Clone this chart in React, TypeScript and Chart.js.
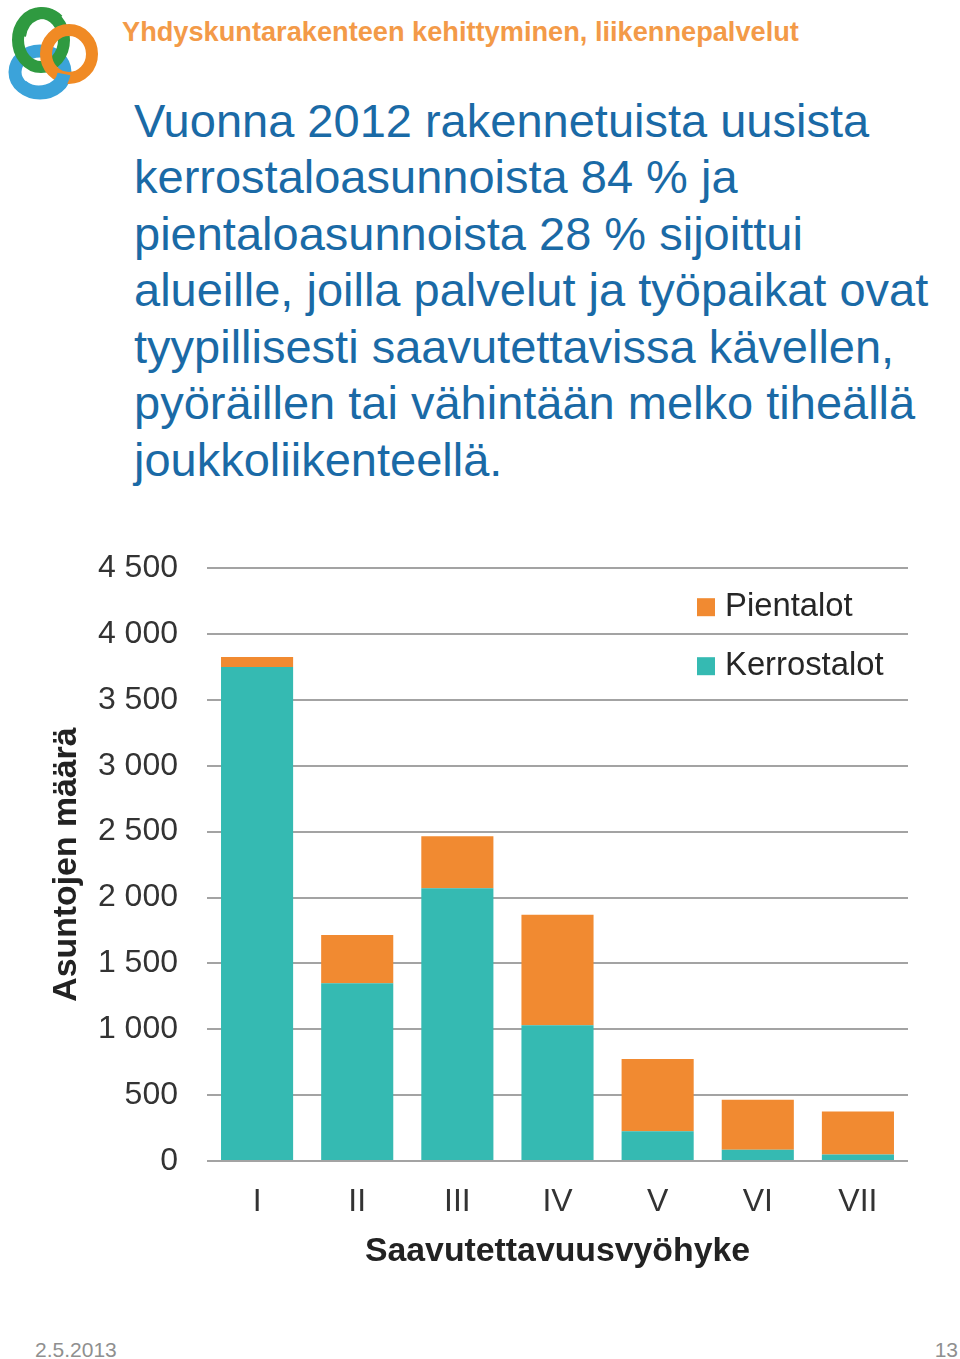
import React, { useEffect, useRef } from "react";
import { Chart, registerables } from "chart.js";
Chart.register(...registerables);

const categories = ["I", "II", "III", "IV", "V", "VI", "VII"];
const kerrostalot = [3750, 1350, 2070, 1030, 225, 85, 50];
const pientalot = [75, 365, 395, 840, 550, 380, 325];
const seriesNames = ["Kerrostalot", "Pientalot"];
const seriesColors = ["#35bab2", "#f18a31"];
const yMax = 4500;
const yStep = 500;
const yTitle = "Asuntojen määrä";
const xTitle = "Saavutettavuusvyöhyke";
const headerText = "Yhdyskuntarakenteen kehittyminen, liikennepalvelut";
const titleLines = [
  "Vuonna 2012 rakennetuista uusista",
  "kerrostaloasunnoista 84 % ja",
  "pientaloasunnoista 28 % sijoittui",
  "alueille, joilla palvelut ja työpaikat ovat",
  "tyypillisesti saavutettavissa kävellen,",
  "pyöräillen tai vähintään melko tiheällä",
  "joukkoliikenteellä.",
];
const footerDate = "2.5.2013";
const footerPage = "13";

const FONT = "'Liberation Sans', Arial, Helvetica, sans-serif";

const legendPlugin = {
  id: "customLegend",
  afterDraw(chart: any) {
    const { ctx, chartArea } = chart;
    const ds = chart.data.datasets.slice().reverse();
    ctx.save();
    ctx.font = `32.8px ${FONT}`;
    ctx.textBaseline = "middle";
    ctx.textAlign = "left";
    ds.forEach((d: any, i: number) => {
      const x = chartArea.right - 211;
      const y = chartArea.top + 30 + i * 59;
      ctx.fillStyle = d.backgroundColor;
      ctx.fillRect(x, y, 18, 18);
      ctx.fillStyle = "#262626";
      ctx.fillText(d.label, x + 28, y + 9);
    });
    ctx.restore();
  },
};

function fmt(v: number) {
  const s = String(Math.round(v));
  return s.replace(/\B(?=(\d{3})+(?!\d))/g, " ");
}

export default function App() {
  const ref = useRef<HTMLCanvasElement>(null);
  useEffect(() => {
    if (!ref.current) return;
    const chart = new Chart(ref.current, {
      type: "bar",
      data: {
        labels: categories,
        datasets: [
          { label: seriesNames[0], data: kerrostalot, backgroundColor: seriesColors[0] },
          { label: seriesNames[1], data: pientalot, backgroundColor: seriesColors[1] },
        ],
      },
      options: {
        animation: false,
        responsive: false,
        maintainAspectRatio: false,
        layout: { padding: { left: 40, right: 52, top: 48, bottom: 10 } },
        datasets: { bar: { categoryPercentage: 1, barPercentage: 0.72 } },
        plugins: { legend: { display: false }, tooltip: { enabled: false } },
        scales: {
          x: {
            stacked: true,
            grid: { display: false, drawTicks: false },
            border: { display: false },
            ticks: { color: "#333333", font: { family: FONT, size: 32 }, padding: 22 },
            title: {
              display: true,
              text: xTitle,
              color: "#222222",
              font: { family: FONT, size: 33.8, weight: "bold" },
              padding: { top: 0, bottom: 18 },
            },
            afterFit: (s: any) => {
              s.height = 129;
            },
          },
          y: {
            stacked: true,
            min: 0,
            max: yMax,
            grid: { color: "#a3a3a3", lineWidth: 2, drawTicks: false },
            border: { display: false },
            ticks: {
              stepSize: yStep,
              color: "#333333",
              font: { family: FONT, size: 32 },
              padding: 29,
              callback: (v: any) => fmt(Number(v)),
            },
            title: {
              display: true,
              text: yTitle,
              color: "#222222",
              font: { family: FONT, size: 33.8, weight: "bold" },
              padding: { top: 6, bottom: 0 },
            },
            afterFit: (s: any) => {
              s.width = 167;
            },
          },
        },
      } as any,
      plugins: [legendPlugin],
    });
    return () => chart.destroy();
  }, []);

  return (
    <div style={{ position: "absolute", left: 0, top: 0, width: 960, height: 1359, background: "#fff", overflow: "hidden", fontFamily: FONT }}>
      <svg width={100} height={100} style={{ position: "absolute", left: 2, top: 2 }} viewBox="0 0 100 100">
        <ellipse cx={38} cy={70} rx={25} ry={21} fill="none" stroke="#3ba3da" strokeWidth={13} />
        <ellipse cx={39} cy={38} rx={23} ry={27} fill="none" stroke="#2f9a40" strokeWidth={12} />
        <ellipse cx={67} cy={52} rx={23} ry={24} fill="none" stroke="#f08a24" strokeWidth={12} />
        <path d="M18 34 A23 27 0 0 1 56 18" fill="none" stroke="#2f9a40" strokeWidth={12} />
        <path d="M20 84 A25 21 0 0 0 62 72" fill="none" stroke="#3ba3da" strokeWidth={13} />
      </svg>
      <div style={{ position: "absolute", left: 122, top: 18, fontSize: 27.2, lineHeight: "27.2px", fontWeight: "bold", color: "#f39a48", whiteSpace: "nowrap" }}>
        {headerText}
      </div>
      <div style={{ position: "absolute", left: 134, top: 92.5, fontSize: 47, lineHeight: "56.5px", color: "#1a6aa6", whiteSpace: "nowrap" }}>
        {titleLines.map((l, i) => (
          <div key={i}>{l}</div>
        ))}
      </div>
      <canvas ref={ref} width={960} height={780} style={{ position: "absolute", left: 0, top: 520, width: 960, height: 780 }} />
      <div style={{ position: "absolute", left: 35, top: 1339, fontSize: 21, lineHeight: "21px", color: "#8f8f8f" }}>{footerDate}</div>
      <div style={{ position: "absolute", right: 2, top: 1339, fontSize: 21, lineHeight: "21px", color: "#8f8f8f" }}>{footerPage}</div>
    </div>
  );
}
